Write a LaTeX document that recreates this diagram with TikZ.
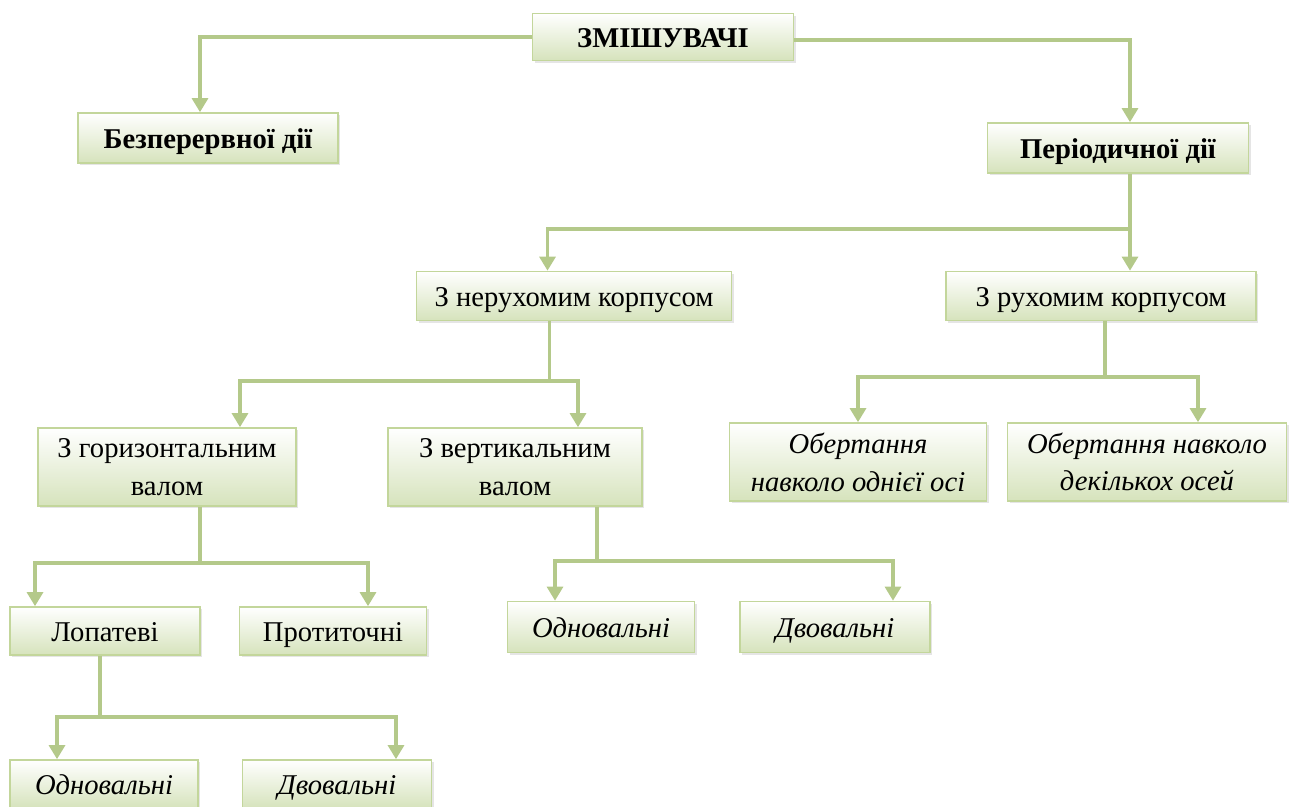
\documentclass[tikz,border=0pt]{standalone}
\usepackage{fontspec}
\setmainfont{Liberation Serif}
\usetikzlibrary{arrows.meta,shadows}

\definecolor{boxline}{RGB}{195,214,155}
\definecolor{boxfill}{RGB}{214,227,188}
\definecolor{linkg}{RGB}{180,201,138}

\newcommand{\boxfont}{\fontsize{16.3}{21.5}\selectfont}

\tikzset{
  box/.style={draw=boxline, line width=0.9pt, top color=white, bottom color=boxfill,
    drop shadow={shadow xshift=1.2pt, shadow yshift=-1.2pt, fill=black!20},
    align=center, inner sep=2pt, font=\boxfont},
  oneline/.style={box, text height=12.4pt, text depth=0pt},
  link/.style={draw=linkg, line width=2.2pt},
  linkarr/.style={link, -{Triangle[width=9pt,length=8pt,fill=linkg]}}
}

\begin{document}
\begin{tikzpicture}[x=0.02cm,y=-0.02cm]
    \useasboundingbox (0,0) rectangle (1295,806);

    \node[oneline, minimum width=5.22cm, minimum height=0.94cm, font=\boxfont\bfseries] (top) at (663,37) {ЗМІШУВАЧІ};
    \node[oneline, minimum width=5.2cm, minimum height=1cm, font=\boxfont\bfseries] (bez) at (208,138) {Безперервної дії};
    \node[oneline, minimum width=5.22cm, minimum height=1cm, font=\boxfont\bfseries] (per) at (1118,148) {Періодичної дії};

    \node[oneline, minimum width=6.3cm, minimum height=0.98cm] (ner) at (574,296) {З нерухомим корпусом};
    \node[oneline, minimum width=6.2cm, minimum height=0.98cm] (ruh) at (1101,296) {З рухомим корпусом};

    \node[box, minimum width=5.16cm, minimum height=1.56cm] (hor) at (167,467) {З горизонтальним\\валом};
    \node[box, minimum width=5.08cm, minimum height=1.56cm] (ver) at (515,467) {З вертикальним\\валом};
    \node[box, minimum width=5.14cm, minimum height=1.56cm, font=\boxfont\itshape] (ob1) at (858,462) {Обертання\\навколо однієї осі};
    \node[box, minimum width=5.58cm, minimum height=1.56cm, font=\boxfont\itshape] (ob2) at (1147,462) {Обертання навколо\\декількох осей};

    \node[oneline, minimum width=3.8cm, minimum height=0.96cm] (lop) at (105,631) {Лопатеві};
    \node[oneline, minimum width=3.74cm, minimum height=0.96cm] (pro) at (333,631) {Протиточні};
    \node[oneline, minimum width=3.74cm, minimum height=1.02cm, font=\boxfont\itshape] (od1) at (601,627) {Одновальні};
    \node[oneline, minimum width=3.8cm, minimum height=1.02cm, font=\boxfont\itshape] (dv1) at (835,627) {Двовальні};

    \node[oneline, minimum width=3.76cm, minimum height=0.96cm, font=\boxfont\itshape] (od2) at (104,784) {Одновальні};
    \node[oneline, minimum width=3.78cm, minimum height=0.96cm, font=\boxfont\itshape] (dv2) at (337,784) {Двовальні};

    % top level
    \draw[linkarr] (top.west) -| ([xshift=-0.16cm]bez.north);
    \draw[linkarr] ([yshift=-0.06cm]top.east) -| ([xshift=0.24cm]per.north);

    % periodic
    \draw[link] ([xshift=0.24cm]per.south) -- ++(0,55) coordinate (j1);
    \draw[linkarr] (j1) -| ([xshift=-0.53cm]ner.north);
    \draw[linkarr] (j1) -- (j1 |- ruh.north);

    % fixed body
    \draw[link] ([xshift=-0.49cm]ner.south) -- ++(0,60) coordinate (j2);
    \draw[linkarr] (j2) -| ([xshift=1.46cm]hor.north);
    \draw[linkarr] (j2) -| ([xshift=1.26cm]ver.north);

    % moving body
    \draw[link] ([xshift=0.08cm]ruh.south) -- ++(0,56) coordinate (j3);
    \draw[linkarr] (j3) -| (ob1.north);
    \draw[linkarr] (j3) -| ([xshift=1.02cm]ob2.north);

    % horizontal shaft
    \draw[link] ([xshift=0.66cm]hor.south) -- ++(0,56) coordinate (j4);
    \draw[linkarr] (j4) -| ([xshift=-1.4cm]lop.north);
    \draw[linkarr] (j4) -| ([xshift=0.7cm]pro.north);

    % vertical shaft
    \draw[link] ([xshift=1.64cm]ver.south) -- ++(0,54) coordinate (j5);
    \draw[linkarr] (j5) -| ([xshift=-0.92cm]od1.north);
    \draw[linkarr] (j5) -| ([xshift=1.16cm]dv1.north);

    % blades
    \draw[link] ([xshift=-0.1cm]lop.south) -- ++(0,61) coordinate (j6);
    \draw[linkarr] (j6) -| ([xshift=-0.94cm]od2.north);
    \draw[linkarr] (j6) -| ([xshift=1.18cm]dv2.north);
  \end{tikzpicture}
\end{document}
